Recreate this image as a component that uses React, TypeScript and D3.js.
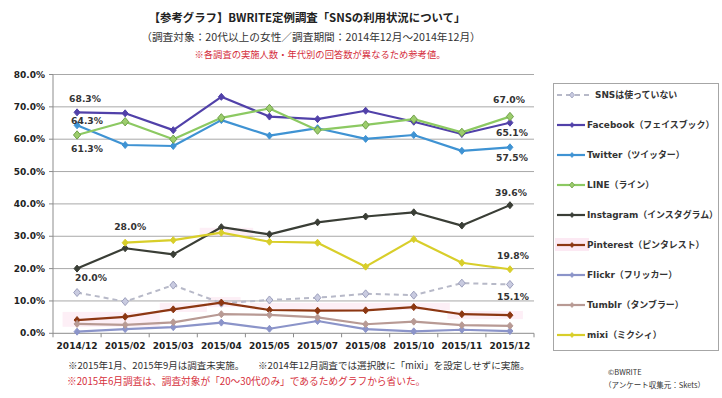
import React from "react";
import * as d3 from "d3";

const categories = ["2014/12", "2015/02", "2015/03", "2015/04", "2015/05", "2015/07", "2015/08", "2015/10", "2015/11", "2015/12"];
const yTickValues = [0, 10, 20, 30, 40, 50, 60, 70, 80];

const seriesNames = [
  "SNSは使っていない",
  "Facebook（フェイスブック）",
  "Twitter（ツイッター）",
  "LINE（ライン）",
  "Instagram（インスタグラム）",
  "Pinterest（ピンタレスト）",
  "Flickr（フリッカー）",
  "Tumblr（タンブラー）",
  "mixi（ミクシィ）",
];

const snsNone = [12.6, 9.8, 14.9, 9.3, 10.3, 11.0, 12.2, 11.8, 15.5, 15.1];
const facebook = [68.3, 68.0, 62.8, 73.1, 67.0, 66.2, 68.8, 65.4, 61.6, 65.1];
const twitter = [64.3, 58.2, 57.9, 65.9, 61.1, 63.4, 60.1, 61.3, 56.4, 57.5];
const lineApp = [61.3, 65.4, 60.0, 66.6, 69.5, 62.8, 64.4, 66.2, 62.1, 67.0];
const instagram = [20.0, 26.3, 24.4, 32.8, 30.6, 34.3, 36.1, 37.4, 33.3, 39.6];
const pinterest = [4.1, 5.1, 7.4, 9.5, 7.2, 7.0, 7.1, 8.1, 5.9, 5.6];
const flickr = [0.5, 1.3, 1.9, 3.3, 1.4, 3.8, 1.3, 0.6, 1.1, 0.7];
const tumblr = [2.9, 2.6, 3.4, 5.9, 5.7, 4.9, 2.8, 3.6, 2.5, 2.3];
const mixi: (number | null)[] = [null, 28.0, 28.8, 31.1, 28.3, 28.0, 20.6, 29.1, 21.8, 19.8];

// which points carry a value label: [series index, category index]
const labelledPoints: [number, number][] = [
  [1, 0], [2, 0], [3, 0], [8, 1], [4, 0],
  [3, 9], [1, 9], [2, 9], [4, 9], [8, 9], [0, 9],
];

// faint pink highlight bands (category-position start/end, value low/high)
const highlightBands = [
  [0.2, 2.22, 2.0, 6.6],
  [2.22, 3.2, 6.6, 9.4],
  [3.22, 3.9, 8.1, 11.2],
  [4.1, 8.25, 7.2, 9.4],
  [8.2, 9.77, 4.4, 6.9],
  [3.05, 4.16, 29.8, 32.6],
];

const titleText = "【参考グラフ】BWRITE定例調査「SNSの利用状況について」";
const subtitleText = "（調査対象：20代以上の女性／調査期間：2014年12月～2014年12月）";
const cautionText = "※各調査の実施人数・年代別の回答数が異なるため参考値。";
const note1a = "※2015年1月、2015年9月は調査未実施。";
const note1b = "※2014年12月調査では選択肢に「mixi」を設定しせずに実施。";
const note2 = "※2015年6月調査は、調査対象が「20～30代のみ」であるためグラフから省いた。";
const credit1 = "©BWRITE";
const credit2 = "（アンケート収集元：Skets）";

const seriesValues: (number | null)[][] = [snsNone, facebook, twitter, lineApp, instagram, pinterest, flickr, tumblr, mixi];

const styles = [
  { color: "#b7b9c8", fill: "#c9cbe0", stroke: "#9c9fbc", r: 4, dash: "5,4", w: 2 },
  { color: "#5141a9", fill: "#5141a9", stroke: "#5141a9", r: 3.5, dash: null, w: 2.2 },
  { color: "#3f93d3", fill: "#3f93d3", stroke: "#3f93d3", r: 3.5, dash: null, w: 2.2 },
  { color: "#8cc962", fill: "#9ccd6c", stroke: "#6f9f49", r: 4.2, dash: null, w: 2.2 },
  { color: "#3a3e36", fill: "#3a3e36", stroke: "#3a3e36", r: 3.5, dash: null, w: 2.2 },
  { color: "#8c3712", fill: "#8c3712", stroke: "#8c3712", r: 3.5, dash: null, w: 2.2 },
  { color: "#8b94c9", fill: "#8b94c9", stroke: "#8b94c9", r: 3.5, dash: null, w: 2.2 },
  { color: "#b89a94", fill: "#b89a94", stroke: "#b89a94", r: 3.5, dash: null, w: 2.2 },
  { color: "#d8ce2a", fill: "#d8ce2a", stroke: "#d8ce2a", r: 3.5, dash: null, w: 2.2 },
];

const labelOffsets: Record<string, [number, number]> = {
  "1-0": [8, -14], "2-0": [10, -5], "3-0": [10, 14], "8-1": [5, -16], "4-0": [14, 9],
  "3-9": [-1, -17], "1-9": [2, 10], "2-9": [2, 10], "4-9": [1, -12.5], "8-9": [3, -14], "0-9": [3, 12],
};

const diamond = (r: number) => `M0,${-r}L${r * 0.85},0L0,${r}L${-r * 0.85},0Z`;

export default function App() {
  const W = 722, H = 398;
  const left = 53, right = 534, top = 74.5, bottom = 333.3;
  const x = d3.scaleBand<string>().domain(categories).range([left, right]).padding(0);
  const bw = x.bandwidth();
  const cx = (i: number) => (x(categories[i]) as number) + bw / 2;
  const y = d3.scaleLinear().domain([0, 80]).range([bottom, top]);
  const xPos = d3.scaleLinear().domain([0, categories.length]).range([left, right]);

  const lineGen = d3
    .line<number | null>()
    .defined((d) => d != null)
    .x((_, i) => cx(i))
    .y((d) => y(d as number));

  const tickFont = "'DejaVu Sans', Verdana, sans-serif";
  const jp = "'Noto Sans CJK JP', sans-serif";
  const legendFont = "'DejaVu Sans', 'Noto Sans CJK JP', sans-serif";

  const legendX = 553, legendY = 83, legendW = 165, legendH = 267;
  const legendItemY = (i: number) => 95 + i * 30;

  return (
    <svg width={W} height={H} style={{ position: "absolute", left: 0, top: 0, background: "#fff" }}>
      <rect x={0} y={0} width={W} height={H} fill="#fff" />
      {/* titles */}
      <text x={307} y={17} textAnchor="middle" dominantBaseline="central" fontFamily={jp} fontWeight="bold" fontSize={11.4} fill="#222">{titleText}</text>
      <text x={311} y={36} textAnchor="middle" dominantBaseline="central" fontFamily={jp} fontSize={10.7} fill="#333">{subtitleText}</text>
      <text x={320} y={54} textAnchor="middle" dominantBaseline="central" fontFamily={jp} fontSize={9.3} fill="#d42b3a">{cautionText}</text>

      {/* highlight bands */}
      {highlightBands.map((b, i) => (
        <rect key={i} x={xPos(b[0])} y={y(b[3])} width={xPos(b[1]) - xPos(b[0])} height={y(b[2]) - y(b[3])} fill="#fbe0ee" opacity={0.5} />
      ))}

      {/* gridlines */}
      {yTickValues.filter((v) => v > 0).map((v) => (
        <line key={v} x1={left} x2={right} y1={y(v)} y2={y(v)} stroke="#a8a8a8" strokeWidth={1} />
      ))}
      {/* axes */}
      <line x1={left} x2={left} y1={top} y2={bottom} stroke="#8c8c8c" />
      <line x1={left} x2={right} y1={bottom} y2={bottom} stroke="#8c8c8c" />
      {yTickValues.map((v) => (
        <g key={v}>
          <line x1={left - 4} x2={left} y1={y(v)} y2={y(v)} stroke="#8c8c8c" />
          <text x={45} y={y(v)} textAnchor="end" dominantBaseline="central" fontFamily={tickFont} fontWeight="bold" fontSize={9} fill="#222">{v.toFixed(1)}%</text>
        </g>
      ))}
      {d3.range(categories.length + 1).map((i) => (
        <line key={i} x1={xPos(i)} x2={xPos(i)} y1={bottom} y2={bottom + 4} stroke="#8c8c8c" />
      ))}
      {categories.map((c, i) => (
        <text key={c} x={cx(i)} y={346} textAnchor="middle" dominantBaseline="central" fontFamily={tickFont} fontWeight="bold" fontSize={9} fill="#222">{c}</text>
      ))}

      {/* series */}
      {seriesValues.map((vals, si) => {
        const st = styles[si];
        return (
          <g key={si}>
            <path d={lineGen(vals) || ""} fill="none" stroke={st.color} strokeWidth={st.w} strokeDasharray={st.dash || undefined} strokeLinejoin="round" />
            {vals.map((v, i) =>
              v == null ? null : (
                <path key={i} d={diamond(st.r)} transform={`translate(${cx(i)},${y(v)})`} fill={st.fill} stroke={st.stroke} strokeWidth={1} />
              )
            )}
          </g>
        );
      })}

      {/* value labels */}
      {labelledPoints.map(([si, ci]) => {
        const v = seriesValues[si][ci] as number;
        const off = labelOffsets[`${si}-${ci}`];
        return (
          <text key={`${si}-${ci}`} x={cx(ci) + off[0]} y={y(v) + off[1]} textAnchor="middle" dominantBaseline="central" fontFamily={tickFont} fontWeight="bold" fontSize={9.2} fill="#333">
            {v.toFixed(1)}%
          </text>
        );
      })}

      {/* legend */}
      <rect x={legendX + 0.5} y={legendY + 0.5} width={legendW} height={legendH} fill="#fff" stroke="#a6a6a6" />
      <rect x={legendX + 2} y={legendItemY(5) - 7} width={34} height={13} fill="#fbe0ee" opacity={0.7} />
      {seriesNames.map((name, i) => {
        const st = styles[i];
        const ly = legendItemY(i);
        const textX = i === 0 ? 595 : 587;
        return (
          <g key={name}>
            <line x1={557} x2={i === 0 ? 590 : 585} y1={ly} y2={ly} stroke={st.color} strokeWidth={st.w} strokeDasharray={st.dash || undefined} />
            <path d={diamond(i === 0 || i === 3 ? 3 : 2.5)} transform={`translate(${572},${ly})`} fill={st.fill} stroke={st.stroke} strokeWidth={0.8} />
            <text transform={`translate(${textX},${ly}) scale(0.97,1)`} dominantBaseline="central" fontFamily={legendFont} fontWeight="bold" fontSize={9.2} fill="#333">{name}</text>
          </g>
        );
      })}

      {/* notes */}
      <text x={68} y={365} dominantBaseline="central" fontFamily={jp} fontSize={9.5} fill="#333">{note1a}</text>
      <text x={258} y={365} dominantBaseline="central" fontFamily={jp} fontSize={9.6} fill="#333">{note1b}</text>
      <text x={67} y={381} dominantBaseline="central" fontFamily={jp} fontSize={9.7} fill="#d6303c">{note2}</text>
      <text x={608} y={371} dominantBaseline="central" fontFamily={jp} fontSize={7.5} fill="#333">{credit1}</text>
      <text x={604} y={384} dominantBaseline="central" fontFamily={jp} fontSize={7.5} fill="#333">{credit2}</text>
    </svg>
  );
}
